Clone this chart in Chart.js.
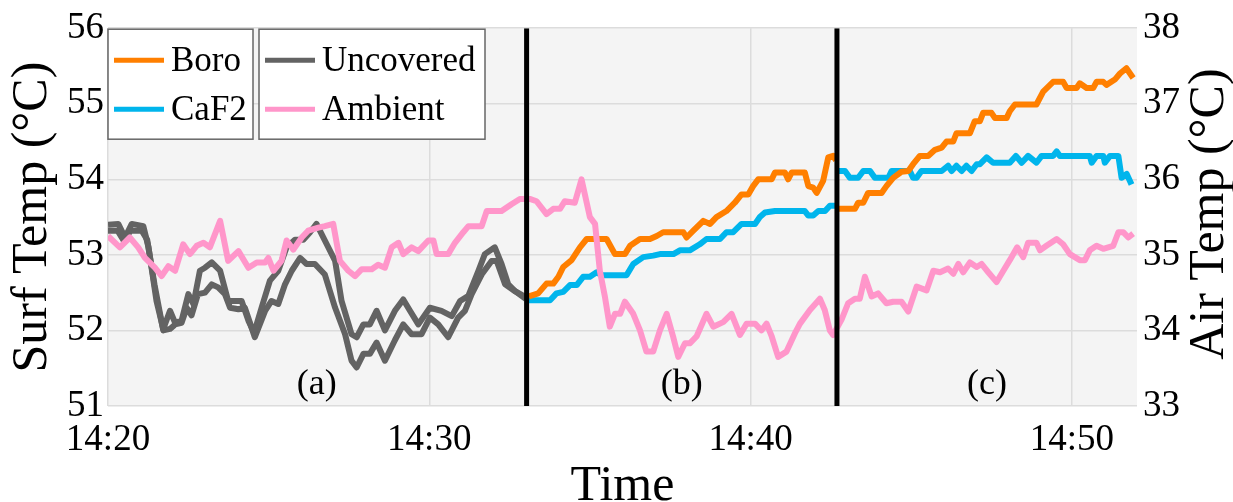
<!DOCTYPE html>
<html>
<head>
<meta charset="utf-8">
<script src="https://cdn.jsdelivr.net/npm/chart.js@4.4.1/dist/chart.umd.min.js"></script>
<style>
  body { margin: 0; background: #ffffff; }
  canvas { display: block; }
</style>
</head>
<body>
<canvas id="temps" width="1233" height="502"></canvas>
<script>
// time is minutes after 14:20
const x_tick_values = [0, 10, 20, 30]
const x_tick_labels = ['14:20', '14:30', '14:40', '14:50']
const divider_times = [13.03, 22.69]
const section_labels = ['(a)', '(b)', '(c)']
const section_times = [6.5, 17.86, 27.36]

// Uncovered (left axis), two sensors
const uncovered1_times = [0, 0.32, 0.53, 0.74, 1.1, 1.26, 1.51, 1.72, 1.93, 2.09, 2.29, 2.5, 2.66, 2.86, 3.02, 3.23, 3.49, 3.74, 3.95, 4.16, 4.37, 4.55, 4.78, 5.04, 5.3, 5.56, 5.82, 6.08, 6.29, 6.49, 6.75, 7.07, 7.27, 7.58, 7.74, 7.95, 8.15, 8.36, 8.62, 8.93, 9.19, 9.4, 9.66, 10.02, 10.38, 10.7, 10.96, 11.22, 11.53, 11.73, 12.04, 12.25, 12.46, 12.67, 13.0]
const uncovered1_values = [53.4, 53.41, 53.23, 53.41, 53.38, 53.1, 52.39, 52.02, 52.26, 52.1, 52.13, 52.48, 52.35, 52.79, 52.83, 52.9, 52.79, 52.39, 52.39, 52.39, 52.13, 51.97, 52.3, 52.66, 52.79, 53.1, 53.2, 53.2, 53.3, 53.41, 53.19, 52.92, 52.39, 51.95, 51.91, 52.08, 52.08, 52.26, 52.0, 52.26, 52.41, 52.26, 52.08, 52.3, 52.26, 52.19, 52.39, 52.46, 52.79, 53.01, 53.1, 52.88, 52.61, 52.52, 52.42]
const uncovered2_times = [0, 0.3, 0.5, 0.7, 1.05, 1.22, 1.45, 1.72, 1.93, 2.09, 2.29, 2.45, 2.6, 2.8, 3.02, 3.23, 3.43, 3.64, 3.8, 4.06, 4.26, 4.57, 4.89, 5.09, 5.3, 5.51, 5.72, 5.98, 6.18, 6.44, 6.75, 7.07, 7.38, 7.58, 7.74, 7.95, 8.15, 8.36, 8.62, 8.93, 9.19, 9.45, 9.76, 10.02, 10.28, 10.59, 10.9, 11.11, 11.32, 11.63, 11.94, 12.1, 12.36, 12.67, 13.0]
const uncovered2_values = [53.32, 53.32, 53.18, 53.32, 53.32, 53.2, 52.6, 52.0, 52.02, 52.08, 52.1, 52.3, 52.2, 52.48, 52.5, 52.61, 52.57, 52.48, 52.3, 52.28, 52.3, 51.91, 52.26, 52.39, 52.35, 52.61, 52.79, 52.96, 52.88, 52.88, 52.74, 52.3, 51.95, 51.6, 51.51, 51.69, 51.69, 51.84, 51.6, 51.87, 52.08, 51.95, 51.95, 52.17, 52.08, 51.91, 52.17, 52.26, 52.48, 52.74, 52.92, 52.92, 52.61, 52.52, 52.44]

// Ambient (right axis)
const ambient_times = [0, 0.37, 0.68, 0.94, 1.15, 1.46, 1.67, 1.88, 2.09, 2.34, 2.55, 2.76, 2.97, 3.17, 3.49, 3.74, 4.06, 4.37, 4.63, 4.89, 4.99, 5.15, 5.4, 5.56, 5.77, 6.03, 6.23, 6.55, 6.75, 7.01, 7.22, 7.48, 7.69, 7.9, 8.21, 8.41, 8.62, 8.83, 9.04, 9.19, 9.45, 9.66, 9.97, 10.13, 10.23, 10.59, 10.8, 11.06, 11.22, 11.63, 11.79, 12.25, 12.56, 12.82, 13.13, 13.34, 13.65, 13.86, 14.07, 14.22, 14.53, 14.74, 15.0, 15.16, 15.31, 15.47, 15.62, 15.78, 15.94, 16.09, 16.35, 16.56, 16.76, 16.97, 17.18, 17.39, 17.59, 17.75, 17.96, 18.11, 18.32, 18.63, 18.84, 19.15, 19.41, 19.67, 19.88, 20.14, 20.34, 20.5, 20.66, 20.86, 21.12, 21.38, 21.54, 21.85, 22.16, 22.31, 22.47, 22.57, 22.83, 23.04, 23.25, 23.4, 23.56, 23.77, 23.97, 24.23, 24.44, 24.7, 24.91, 25.17, 25.48, 25.69, 25.9, 26.15, 26.31, 26.47, 26.62, 26.83, 27.04, 27.19, 27.4, 27.66, 27.87, 28.07, 28.3, 28.49, 28.64, 28.9, 29.01, 29.21, 29.53, 29.73, 29.94, 30.25, 30.41, 30.56, 30.77, 30.98, 31.29, 31.45, 31.6, 31.76, 31.91]
const ambient_values = [35.25, 35.1, 35.23, 35.1, 34.96, 34.83, 34.72, 34.85, 34.79, 35.14, 35.01, 35.12, 35.16, 35.1, 35.45, 34.92, 35.05, 34.83, 34.9, 34.9, 34.96, 34.79, 34.92, 35.19, 35.07, 35.23, 35.32, 35.36, 35.38, 35.41, 34.92, 34.79, 34.72, 34.81, 34.81, 34.87, 34.83, 35.1, 35.16, 35.01, 35.1, 35.05, 35.19, 35.19, 35.01, 35.01, 35.16, 35.3, 35.38, 35.38, 35.58, 35.58, 35.67, 35.74, 35.74, 35.71, 35.54, 35.61, 35.61, 35.71, 35.69, 36.0, 35.5, 35.41, 34.79, 34.44, 34.05, 34.22, 34.22, 34.38, 34.22, 34.0, 33.72, 33.72, 34.0, 34.22, 33.92, 33.65, 33.83, 33.83, 33.92, 34.22, 34.05, 34.11, 34.22, 33.94, 34.09, 34.09, 34.0, 34.09, 33.92, 33.65, 33.72, 33.96, 34.09, 34.27, 34.42, 34.27, 34.0, 33.94, 34.14, 34.36, 34.42, 34.42, 34.71, 34.45, 34.49, 34.36, 34.38, 34.38, 34.25, 34.58, 34.53, 34.79, 34.77, 34.82, 34.75, 34.88, 34.77, 34.9, 34.84, 34.88, 34.77, 34.64, 34.79, 34.93, 35.1, 34.97, 35.16, 35.16, 35.06, 35.12, 35.21, 35.14, 35.01, 34.93, 34.93, 35.06, 35.12, 35.08, 35.12, 35.3, 35.3, 35.23, 35.28]

// Boro and CaF2 (left axis), null = gap at the divider
const boro_times = [13.1, 13.39, 13.65, 13.86, 14.02, 14.17, 14.43, 14.69, 14.9, 15.52, 15.78, 16.09, 16.25, 16.56, 16.87, 17.08, 17.28, 17.91, 18.01, 18.22, 18.53, 18.74, 18.94, 19.25, 19.51, 19.72, 19.93, 20.08, 20.24, 20.66, 20.76, 21.07, 21.17, 21.28, 21.69, 21.8, 21.95, 22.06, 22.26, 22.42, 22.57, 22.66, 22.69, 22.75, 23.25, 23.35, 23.51, 23.66, 24.08, 24.23, 24.44, 24.7, 24.91, 25.06, 25.27, 25.53, 25.74, 25.95, 26.1, 26.31, 26.41, 26.83, 26.98, 27.14, 27.24, 27.5, 27.61, 27.97, 28.07, 28.23, 28.9, 29.11, 29.42, 29.73, 29.84, 30.15, 30.25, 30.46, 30.67, 30.77, 30.98, 31.08, 31.34, 31.5, 31.7, 31.91]
const boro_values = [52.45, 52.49, 52.62, 52.62, 52.71, 52.84, 52.93, 53.1, 53.21, 53.21, 53.01, 53.01, 53.12, 53.21, 53.21, 53.25, 53.3, 53.3, 53.23, 53.32, 53.45, 53.41, 53.5, 53.58, 53.69, 53.8, 53.8, 53.91, 54.0, 54.0, 54.09, 54.09, 54.0, 54.09, 54.09, 53.91, 53.89, 53.82, 53.98, 54.29, 54.31, 54.25, null, 53.61, 53.61, 53.69, 53.69, 53.82, 53.82, 53.91, 54.02, 54.1, 54.11, 54.2, 54.31, 54.31, 54.39, 54.42, 54.5, 54.5, 54.61, 54.61, 54.77, 54.77, 54.88, 54.88, 54.81, 54.81, 54.9, 54.99, 54.99, 55.16, 55.29, 55.29, 55.21, 55.21, 55.27, 55.21, 55.21, 55.29, 55.29, 55.25, 55.32, 55.4, 55.47, 55.34]
const caf2_times = [13.05, 13.76, 13.96, 14.17, 14.38, 14.59, 14.79, 15.0, 15.21, 15.36, 16.14, 16.35, 16.66, 16.97, 17.18, 17.6, 17.8, 18.11, 18.42, 18.63, 19.05, 19.25, 19.46, 19.72, 20.14, 20.29, 20.45, 20.76, 21.69, 21.8, 21.95, 22.11, 22.32, 22.47, 22.66, 22.69, 22.75, 22.94, 23.09, 23.35, 23.51, 23.72, 23.87, 24.29, 24.39, 24.96, 25.06, 25.17, 25.32, 25.95, 26.15, 26.26, 26.41, 26.57, 26.72, 26.88, 27.04, 27.14, 27.35, 27.55, 28.07, 28.26, 28.44, 28.64, 28.9, 29.06, 29.42, 29.53, 29.63, 30.56, 30.62, 30.77, 30.98, 31.03, 31.19, 31.45, 31.55, 31.71, 31.86]
const caf2_values = [52.4, 52.4, 52.49, 52.51, 52.6, 52.6, 52.71, 52.71, 52.77, 52.73, 52.73, 52.88, 52.97, 52.99, 53.01, 53.01, 53.06, 53.06, 53.14, 53.21, 53.21, 53.3, 53.3, 53.41, 53.41, 53.5, 53.56, 53.58, 53.58, 53.52, 53.52, 53.58, 53.58, 53.65, 53.65, null, 54.11, 54.11, 54.02, 54.02, 54.11, 54.11, 54.02, 54.02, 54.11, 54.11, 54.02, 54.02, 54.11, 54.11, 54.18, 54.11, 54.18, 54.11, 54.18, 54.11, 54.2, 54.2, 54.29, 54.22, 54.22, 54.31, 54.22, 54.31, 54.22, 54.31, 54.31, 54.37, 54.31, 54.31, 54.22, 54.31, 54.31, 54.22, 54.31, 54.31, 54.02, 54.07, 53.93]

const serif = 'Liberation Serif'

function pairs(times, values) {
    return times.map((t, i) => ({x: t, y: values[i]}))
}

function series(label, times, values, color, axis) {
    return {
        label: label,
        data: pairs(times, values),
        borderColor: color,
        backgroundColor: color,
        borderWidth: 6,
        pointRadius: 0,
        tension: 0,
        borderJoinStyle: 'round',
        spanGaps: false,
        yAxisID: axis
    }
}

let datasets = []
// dividers first so they sit on top
divider_times.forEach(t => {
    datasets.push({
        label: 'divider',
        data: [{x: t, y: 51}, {x: t, y: 56}],
        borderColor: '#000000',
        borderWidth: 5,
        pointRadius: 0,
        yAxisID: 'y'
    })
})
datasets.push(series('Ambient', ambient_times, ambient_values, '#ff96ca', 'y2'))
datasets.push(series('Boro', boro_times, boro_values, '#ff7f00', 'y'))
datasets.push(series('CaF2', caf2_times, caf2_values, '#00b5ec', 'y'))
datasets.push(series('Uncovered', uncovered1_times, uncovered1_values, '#636363', 'y'))
datasets.push(series('Uncovered', uncovered2_times, uncovered2_values, '#636363', 'y'))

function colorOf(chart, label) {
    return chart.data.datasets.find(d => d.label === label).borderColor
}

const extras = {
    id: 'extras',
    beforeDraw(chart) {
        const ctx = chart.ctx
        const a = chart.chartArea
        ctx.save()
        ctx.fillStyle = '#f4f4f4'
        ctx.fillRect(a.left, a.top, a.right - a.left, a.bottom - a.top)
        ctx.restore()
    },
    afterDraw(chart) {
        const ctx = chart.ctx
        const a = chart.chartArea
        ctx.save()

        // section labels
        ctx.fillStyle = '#000000'
        ctx.font = '36px "' + serif + '"'
        ctx.textAlign = 'center'
        ctx.textBaseline = 'middle'
        section_labels.forEach((s, i) => {
            ctx.fillText(s, chart.scales.x.getPixelForValue(section_times[i]), chart.scales.y.getPixelForValue(51.28))
        })

        // legend, two framed boxes
        const boxes = [
            {left: a.left, width: 145, labels: ['Boro', 'CaF2']},
            {left: a.left + 151, width: 226, labels: ['Uncovered', 'Ambient']}
        ]
        const top = a.top + 1
        boxes.forEach(b => {
            ctx.fillStyle = '#ffffff'
            ctx.fillRect(b.left, top, b.width, 110)
            ctx.strokeStyle = '#666666'
            ctx.lineWidth = 1.5
            ctx.strokeRect(b.left, top, b.width, 110)
            b.labels.forEach((lab, j) => {
                const yy = top + 31 + j * 49
                ctx.strokeStyle = colorOf(chart, lab)
                ctx.lineWidth = 5
                ctx.beginPath()
                ctx.moveTo(b.left + 6, yy)
                ctx.lineTo(b.left + 56, yy)
                ctx.stroke()
                ctx.fillStyle = '#000000'
                ctx.font = '35px "' + serif + '"'
                ctx.textAlign = 'left'
                ctx.fillText(lab, b.left + 63, yy + 2)
            })
        })

        // right axis title reads bottom to top
        ctx.translate(1210, (a.top + a.bottom) / 2 - 3)
        ctx.rotate(-Math.PI / 2)
        ctx.fillStyle = '#000000'
        ctx.font = '50px "' + serif + '"'
        ctx.textAlign = 'center'
        ctx.textBaseline = 'middle'
        ctx.fillText('Air Temp (°C)', 0, 0)
        ctx.restore()
    }
}

const temps_chart = new Chart(document.getElementById('temps'), {
    type: 'line',
    data: {datasets: datasets},
    plugins: [extras],
    options: {
        responsive: false,
        animation: false,
        devicePixelRatio: 1,
        layout: {padding: {top: 26, right: 0, left: 0, bottom: 0}},
        plugins: {
            legend: {display: false},
            tooltip: {enabled: false}
        },
        scales: {
            x: {
                type: 'linear',
                min: 0,
                max: 32.03,
                afterBuildTicks: function(scale) {
                    scale.ticks = x_tick_values.map(v => ({value: v}))
                },
                afterFit: function(scale) { scale.height = 96 },
                ticks: {
                    padding: 12,
                    color: '#000000',
                    maxRotation: 0,
                    font: {family: serif, size: 37},
                    callback: function(value) {
                        return x_tick_labels[x_tick_values.indexOf(value)]
                    }
                },
                grid: {color: '#dcdcdc', lineWidth: 1.5, drawTicks: false},
                border: {display: false},
                title: {
                    display: true,
                    text: 'Time',
                    color: '#000000',
                    font: {family: serif, size: 50, lineHeight: 0.6},
                    padding: {top: 0, bottom: 0}
                }
            },
            y: {
                position: 'left',
                min: 51,
                max: 56,
                afterFit: function(scale) { scale.width = 108 },
                ticks: {
                    stepSize: 1,
                    padding: 4,
                    color: '#000000',
                    font: {family: serif, size: 37}
                },
                grid: {color: '#dcdcdc', lineWidth: 1.5, drawTicks: false},
                border: {display: false},
                title: {
                    display: true,
                    text: 'Surf Temp (°C)',
                    color: '#000000',
                    font: {family: serif, size: 50, lineHeight: 0.9},
                    padding: {top: 10, bottom: 0}
                }
            },
            y2: {
                position: 'right',
                min: 33,
                max: 38,
                afterFit: function(scale) { scale.width = 96 },
                ticks: {
                    stepSize: 1,
                    padding: 6,
                    color: '#000000',
                    font: {family: serif, size: 37}
                },
                grid: {drawOnChartArea: false, drawTicks: false},
                border: {display: false}
            }
        }
    }
})
</script>
</body>
</html>
